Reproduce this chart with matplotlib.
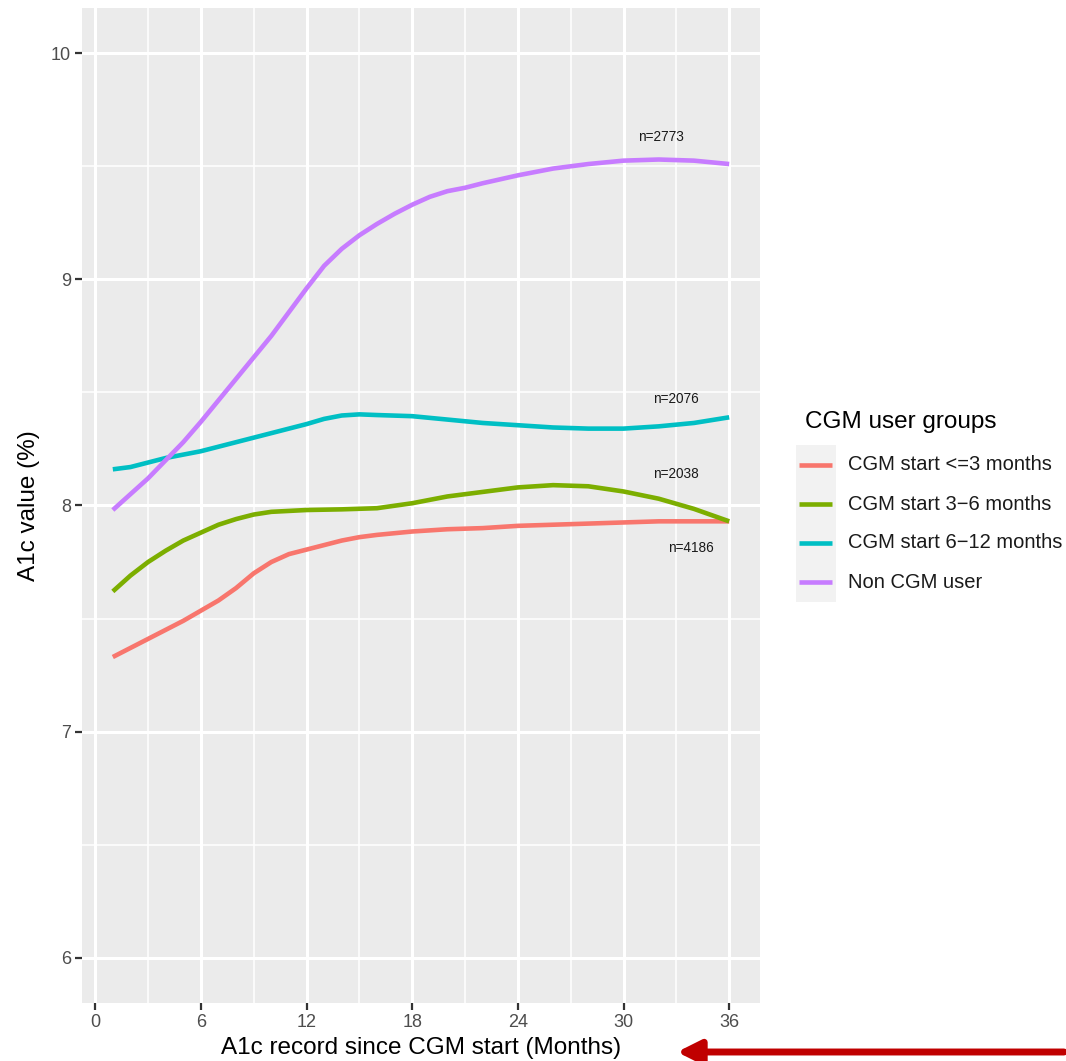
import matplotlib
matplotlib.use("Agg")
import matplotlib.pyplot as plt
from matplotlib.lines import Line2D
from matplotlib.patches import Rectangle

plt.rcParams['font.family'] = ['Liberation Sans', 'DejaVu Sans']

# ---------------- data ----------------
groups = ["CGM start <=3 months", "CGM start 3\u22126 months",
          "CGM start 6\u221212 months", "Non CGM user"]
colors = ["#F8766D", "#7CAE00", "#00BFC4", "#C77CFF"]

x_le3 = [1, 2, 3, 4, 5, 6, 7, 8, 9, 10, 11, 12, 13, 14, 15, 16, 18, 20, 22, 24, 26, 28, 30, 32, 34, 36]
y_le3 = [7.33, 7.37, 7.41, 7.45, 7.49, 7.535, 7.58, 7.635, 7.70, 7.75, 7.785, 7.805, 7.825, 7.845,
         7.86, 7.87, 7.885, 7.895, 7.90, 7.91, 7.915, 7.92, 7.925, 7.93, 7.93, 7.93]

x_3_6 = [1, 2, 3, 4, 5, 6, 7, 8, 9, 10, 11, 12, 14, 16, 18, 20, 22, 24, 26, 28, 30, 32, 34, 36]
y_3_6 = [7.62, 7.69, 7.75, 7.80, 7.845, 7.88, 7.915, 7.94, 7.96, 7.972, 7.976, 7.98, 7.983, 7.988,
         8.01, 8.04, 8.06, 8.08, 8.09, 8.085, 8.062, 8.03, 7.985, 7.93]

x_6_12 = [1, 2, 3, 4, 6, 8, 10, 11, 12, 13, 14, 15, 16, 18, 20, 22, 24, 26, 28, 30, 32, 34, 36]
y_6_12 = [8.16, 8.17, 8.19, 8.21, 8.24, 8.28, 8.32, 8.34, 8.36, 8.383, 8.398, 8.403, 8.40, 8.395,
          8.38, 8.365, 8.355, 8.345, 8.34, 8.34, 8.35, 8.365, 8.39]

x_non = [1, 2, 3, 4, 5, 6, 7, 8, 9, 10, 11, 12, 13, 14, 15, 16, 17, 18, 19, 20, 21, 22, 24, 26, 28, 30, 32, 34, 36]
y_non = [7.98, 8.05, 8.12, 8.20, 8.28, 8.37, 8.465, 8.56, 8.655, 8.75, 8.855, 8.96, 9.06, 9.135,
         9.195, 9.245, 9.29, 9.33, 9.365, 9.39, 9.405, 9.425, 9.46, 9.49, 9.51, 9.525, 9.53, 9.525, 9.51]

series_x = [x_le3, x_3_6, x_6_12, x_non]
series_y = [y_le3, y_3_6, y_6_12, y_non]

n_labels = ["n=4186", "n=2038", "n=2076", "n=2773"]
n_x = [33.8, 33.0, 33.0, 32.1]
n_y = [7.81, 8.14, 8.47, 9.63]

x_ticks = [0, 6, 12, 18, 24, 30, 36]
y_ticks = [6, 7, 8, 9, 10]
x_minor = [3, 9, 15, 21, 27, 33]
y_minor = [6.5, 7.5, 8.5, 9.5]

# ---------------- figure ----------------
W, H = 1066, 1061
fig = plt.figure(figsize=(W / 100, H / 100), dpi=100)
ax = fig.add_axes([82 / W, 1 - 1003 / H, (760 - 82) / W, (1003 - 8) / H])
ax.set_facecolor("#EBEBEB")
for s in ax.spines.values():
    s.set_visible(False)

ax.set_xlim(-0.75, 37.75)
ax.set_ylim(5.8, 10.2)

for v in x_minor:
    ax.axvline(v, color="white", lw=1.1, zorder=1)
for v in y_minor:
    ax.axhline(v, color="white", lw=1.1, zorder=1)
for v in x_ticks:
    ax.axvline(v, color="white", lw=2.2, zorder=1)
for v in y_ticks:
    ax.axhline(v, color="white", lw=2.2, zorder=1)

for xs, ys, c in zip(series_x, series_y, colors):
    ax.plot(xs, ys, color=c, lw=3.3, solid_capstyle="butt", solid_joinstyle="round", zorder=3)

for lab, xx, yy in zip(n_labels, n_x, n_y):
    ax.text(xx, yy, lab, fontsize=9.8, color="#1a1a1a", ha="center", va="center", zorder=4)

ax.set_xticks(x_ticks)
ax.set_yticks(y_ticks)
ax.tick_params(axis="both", length=5, width=1.6, color="#333333",
               labelcolor="#4D4D4D", labelsize=13, pad=3)

ax.set_xlabel("A1c record since CGM start (Months)", fontsize=17.5, color="black", labelpad=4)
ax.set_ylabel("A1c value (%)", fontsize=17.5, color="black", labelpad=8)

# ---------------- legend (manual) ----------------
fig.text(805 / W, 1 - 422 / H, "CGM user groups", fontsize=17.5, ha="left", va="center")
fig.patches.append(Rectangle((796 / W, 1 - 602 / H), 40 / W, 157 / H,
                             transform=fig.transFigure, facecolor="#F2F2F2",
                             edgecolor="none", zorder=0))
leg_y = [465, 504, 543, 582]
for g, c, yy in zip(groups, colors, leg_y):
    fig.add_artist(Line2D([799 / W, 832 / W], [1 - yy / H, 1 - yy / H],
                          transform=fig.transFigure, color=c, lw=3.3,
                          solid_capstyle="butt"))
    fig.text(848 / W, 1 - yy / H, g, fontsize=14.5, ha="left", va="center", color="#1a1a1a")

# ---------------- arrow ----------------
ax.annotate("", xy=(677, H - 1052), xytext=(1064, H - 1052),
            xycoords="figure pixels", textcoords="figure pixels",
            arrowprops=dict(arrowstyle="-|>,head_length=1.4,head_width=0.7",
                            color="#C00000", lw=5, mutation_scale=10,
                            shrinkA=0, shrinkB=0),
            annotation_clip=False)

fig.savefig("out.png", dpi=100)
